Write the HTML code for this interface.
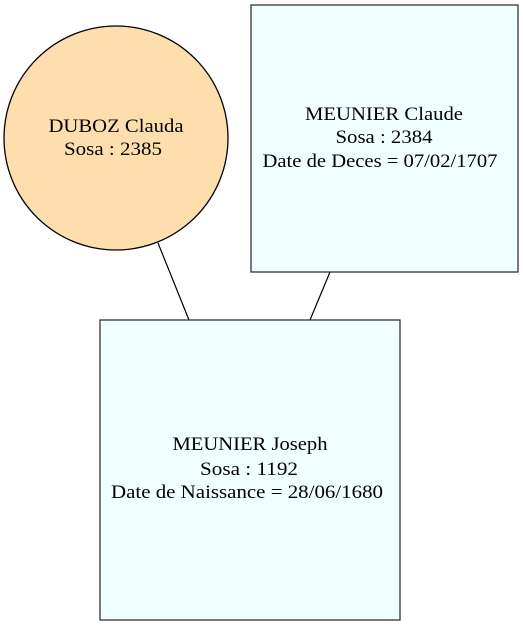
<!DOCTYPE html>
<html><head><meta charset="utf-8"><style>body{margin:0;background:#fff}</style></head><body>
<svg width="523" height="625" xmlns="http://www.w3.org/2000/svg" font-family="Liberation Serif, serif" font-size="19" text-anchor="middle">
<rect width="523" height="625" fill="#fff"/>
<line x1="158" y1="243" x2="189" y2="320" stroke="#000" stroke-width="1.2"/>
<line x1="330" y1="272" x2="310" y2="320" stroke="#000" stroke-width="1.2"/>
<circle cx="116" cy="138" r="112" fill="#FFDEAD" stroke="#000" stroke-width="1.3"/>
<text x="116" y="132" textLength="135" lengthAdjust="spacingAndGlyphs">DUBOZ Clauda</text>
<text x="113" y="155" textLength="98" lengthAdjust="spacingAndGlyphs">Sosa : 2385</text>
<rect x="251" y="5" width="267" height="267" fill="#F0FFFF" stroke="#333" stroke-width="1.3"/>
<text x="384" y="120" textLength="158" lengthAdjust="spacingAndGlyphs">MEUNIER Claude</text>
<text x="384" y="143" textLength="97" lengthAdjust="spacingAndGlyphs">Sosa : 2384</text>
<text x="380" y="167" textLength="235" lengthAdjust="spacingAndGlyphs">Date de Deces = 07/02/1707</text>
<rect x="100" y="320" width="300" height="300" fill="#F0FFFF" stroke="#333" stroke-width="1.3"/>
<text x="250" y="450" textLength="155" lengthAdjust="spacingAndGlyphs">MEUNIER Joseph</text>
<text x="249" y="475" textLength="98" lengthAdjust="spacingAndGlyphs">Sosa : 1192</text>
<text x="247" y="498" textLength="272" lengthAdjust="spacingAndGlyphs">Date de Naissance = 28/06/1680</text>
</svg>
</body></html>
